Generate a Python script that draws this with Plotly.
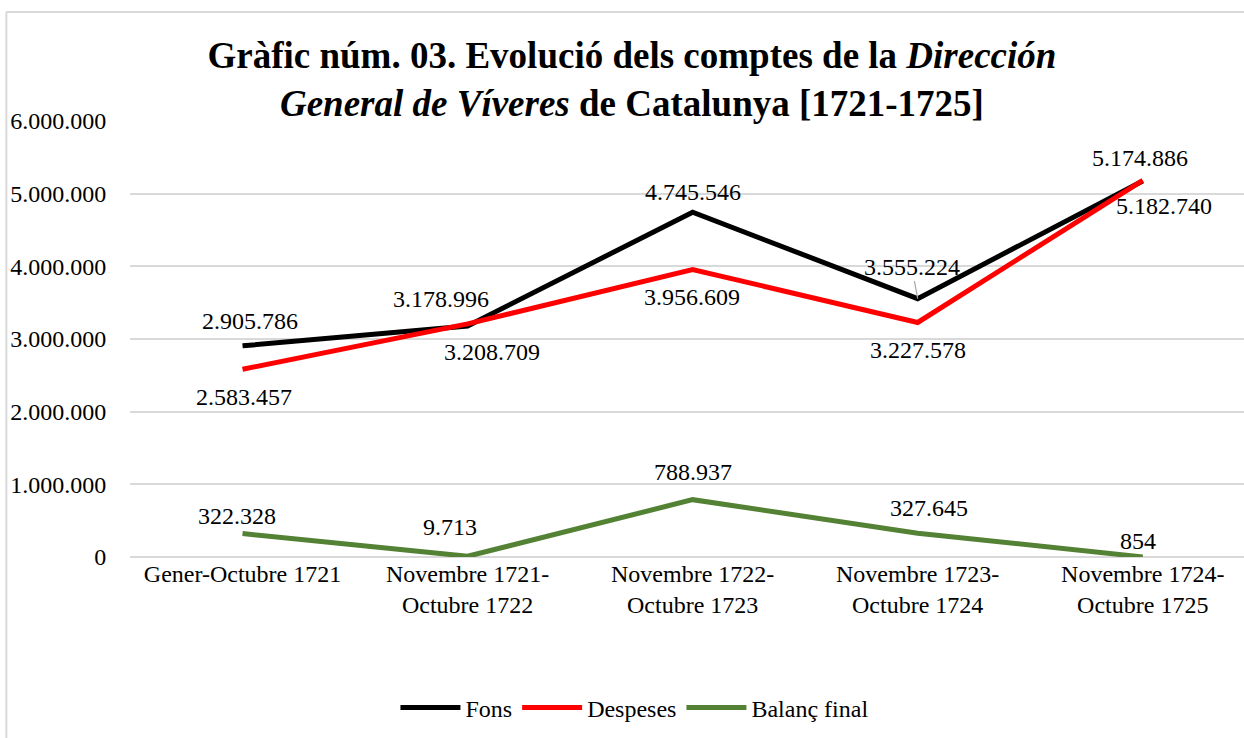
import plotly.graph_objects as go

categories = ["Gener-Octubre 1721", "Novembre 1721-<br>Octubre 1722", "Novembre 1722-<br>Octubre 1723",
              "Novembre 1723-<br>Octubre 1724", "Novembre 1724-<br>Octubre 1725"]
fons = [2905786, 3178996, 4745546, 3555224, 5174886]
despeses = [2583457, 3208709, 3956609, 3227578, 5182740]
balanc = [322328, 9713, 788937, 327645, 854]

FONT = "Liberation Serif"

# desplaçaments de les etiquetes (px) respecte de cada punt
fons_off = [(7, 25), (-27, 27), (0, 20), (-6, 32), (-3, 23)]
desp_off = [(1, -28), (24, -28), (-1, -28), (0, -28), (21, -26)]
bal_off = [(-6, 18), (-18, 29), (0, 28), (11, 25), (-5, 16)]


def fmt(v):
    return f"{v:,}".replace(",", ".")


fig = go.Figure()

series = [("Fons", fons, "#000000", fons_off),
          ("Despeses", despeses, "#ff0000", desp_off),
          ("Balanç final", balanc, "#548235", bal_off)]

for name, values, color, offs in series:
    fig.add_trace(go.Scatter(
        x=categories, y=values, name=name, mode="lines",
        line=dict(color=color, width=5),
    ))
    for i, (cat, v) in enumerate(zip(categories, values)):
        dx, dy = offs[i]
        if name == "Fons" and i == 3:
            # etiqueta amb línia guia
            fig.add_annotation(x=cat, y=v, text=fmt(v), showarrow=True, arrowhead=0,
                               arrowwidth=1.2, arrowcolor="#a6a6a6", ax=dx, ay=-dy,
                               font=dict(size=24, color="#000000"))
        else:
            fig.add_annotation(x=cat, y=v, text=fmt(v), showarrow=False,
                               xshift=dx, yshift=dy, font=dict(size=24, color="#000000"))

# marc del gràfic (esquerra i dalt)
fig.add_shape(type="line", xref="paper", yref="paper", x0=-0.111, x1=-0.111, y0=-0.5, y1=1.25,
              line=dict(color="#d9d9d9", width=2))
fig.add_shape(type="line", xref="paper", yref="paper", x0=-0.111, x1=1.01, y0=1.25, y1=1.25,
              line=dict(color="#d9d9d9", width=2))

fig.update_layout(
    width=1244, height=738,
    paper_bgcolor="white", plot_bgcolor="white",
    separators=",.",
    font=dict(family=FONT, size=24, color="#000000"),
    margin=dict(l=130, r=0, t=121, b=181),
    title=dict(
        text="<b>Gràfic núm. 03. Evolució dels comptes de la <i>Dirección</i><br>"
             "<i>General de Víveres</i> de Catalunya [1721-1725]</b>",
        x=0.508, xref="container", xanchor="center",
        y=1 - 68 / 738, yref="container", yanchor="middle",
        font=dict(family=FONT, size=37, color="#000000"),
    ),
    xaxis=dict(
        type="category", range=[-0.5, 4.45],
        showgrid=False, showline=False, ticks="",
        tickfont=dict(size=24),
    ),
    yaxis=dict(
        range=[0, 6000000], dtick=1000000, tickformat=",d",
        showgrid=True, gridcolor="#d9d9d9", gridwidth=1.5,
        zeroline=True, zerolinecolor="#d9d9d9", zerolinewidth=1.5,
        showline=False, ticks="outside", ticklen=18, tickcolor="rgba(0,0,0,0)",
        tickfont=dict(size=24),
    ),
    showlegend=True,
    legend=dict(
        orientation="h", xref="container", yref="container",
        x=0.51, xanchor="center", y=1 - 708 / 738, yanchor="middle",
        font=dict(size=24), itemwidth=60,
    ),
)

fig.write_html("out.html", config={"displayModeBar": False},
               post_script="document.body.style.margin='0';")
